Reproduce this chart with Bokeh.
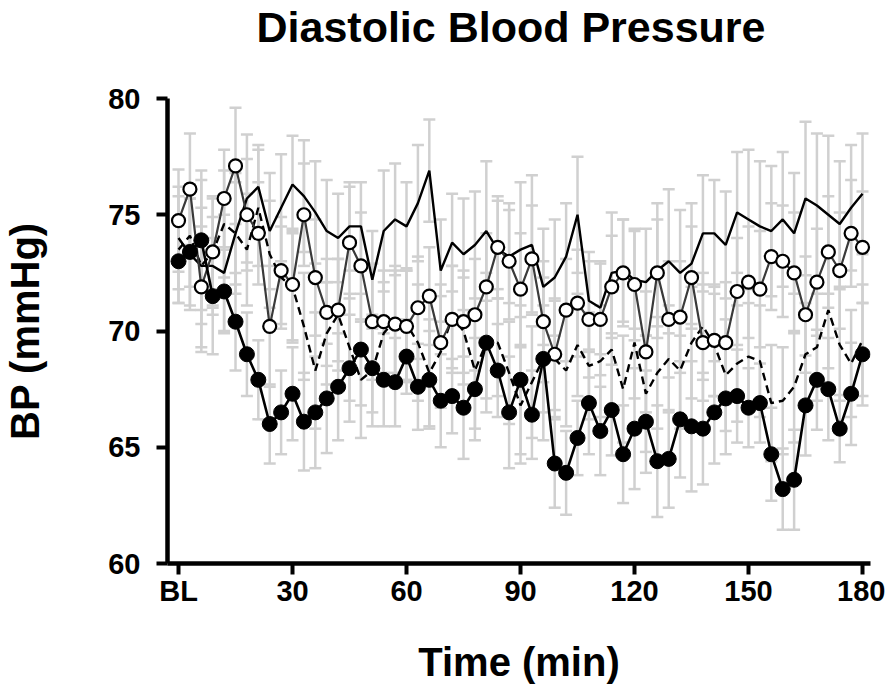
from bokeh.plotting import figure
from bokeh.models import ColumnDataSource, Whisker, TeeHead, FixedTicker, Range1d, Title
from bokeh.embed import file_html
from bokeh.resources import INLINE

time_min = [0, 3, 6, 9, 12, 15, 18, 21, 24, 27, 30, 33, 36, 39, 42, 45, 48, 51, 54, 57, 60,
            63, 66, 69, 72, 75, 78, 81, 84, 87, 90, 93, 96, 99, 102, 105, 108, 111, 114, 117, 120,
            123, 126, 129, 132, 135, 138, 141, 144, 147, 150, 153, 156, 159, 162, 165, 168, 171, 174, 177, 180]

# filled circles, solid line
filled_mean = [73.0, 73.4, 73.9, 71.5, 71.7, 70.4, 69.0, 67.9, 66.0, 66.5, 67.3,
               66.1, 66.5, 67.1, 67.6, 68.4, 69.2, 68.4, 67.9, 67.8, 68.9,
               67.6, 67.9, 67.0, 67.2, 66.7, 67.5, 69.5, 68.3, 66.5, 67.9,
               66.4, 68.8, 64.3, 63.9, 65.4, 66.9, 65.7, 66.6, 64.7, 65.8,
               66.1, 64.4, 64.5, 66.2, 65.9, 65.8, 66.5, 67.1, 67.2, 66.7,
               66.9, 64.7, 63.2, 63.6, 66.8, 67.9, 67.5, 65.8, 67.3, 69.0]
filled_sem = [1.8, 2.3, 3.0, 2.5, 1.8, 2.1, 1.8, 1.7, 1.7, 1.8, 2.0,
              2.1, 2.4, 2.35, 2.3, 2.3, 2.4, 1.9, 2.0, 1.9, 1.6,
              1.85, 2.1, 2.0, 1.6, 2.2, 2.2, 3.0, 2.0, 2.4, 3.2,
              1.9, 3.5, 1.9, 1.8, 1.6, 2.2, 1.9, 1.95, 2.1, 2.6,
              2.2, 2.4, 2.1, 2.5, 2.8, 2.4, 2.2, 2.4, 2.0, 1.7,
              1.7, 2.0, 1.75, 2.15, 2.15, 2.15, 2.2, 1.45, 2.2, 2.2]

# open circles, solid grey line
open_mean = [74.75, 76.1, 71.9, 73.4, 75.7, 77.1, 75.0, 74.2, 70.2, 72.6, 72.0,
             75.0, 72.3, 70.8, 70.9, 73.8, 72.8, 70.4, 70.4, 70.3, 70.2,
             71.0, 71.5, 69.5, 70.5, 70.4, 70.7, 71.9, 73.6, 73.0, 71.8,
             73.1, 70.4, 69.0, 70.9, 71.2, 70.5, 70.5, 71.9, 72.5, 72.0,
             69.1, 72.5, 70.5, 70.6, 72.3, 69.5, 69.6, 69.5, 71.7, 72.1,
             71.8, 73.2, 73.0, 72.5, 70.7, 72.1, 73.4, 72.6, 74.2, 73.6]
open_sem = [2.2, 2.4, 2.6, 2.3, 2.1, 2.5, 2.4, 2.2, 2.6, 2.3, 2.4,
            2.2, 2.5, 2.3, 2.2, 2.4, 2.3, 2.5, 2.2, 2.3, 2.4,
            2.2, 2.1, 2.5, 2.3, 2.2, 2.4, 2.3, 2.2, 2.5, 2.4,
            2.3, 2.6, 2.4, 2.2, 2.3, 2.5, 2.4, 2.2, 2.3, 2.4,
            2.6, 2.3, 2.5, 2.4, 2.2, 2.5, 2.4, 2.6, 2.3, 2.4,
            2.5, 2.3, 2.4, 2.6, 2.5, 2.3, 2.4, 2.5, 2.3, 2.4]

# solid black line, no markers
solid_mean = [74.0, 73.3, 72.8, 72.8, 72.5, 74.2, 75.7, 76.2, 74.3, 75.3, 76.3,
              75.8, 75.1, 74.3, 74.0, 74.5, 74.5, 72.2, 74.3, 74.8, 74.5,
              75.5, 76.9, 72.6, 73.8, 73.3, 73.7, 74.3, 73.5, 73.2, 73.5,
              73.7, 71.9, 72.3, 73.2, 75.0, 71.3, 71.0, 72.5, 72.6, 72.2,
              72.1, 72.6, 73.0, 72.5, 72.9, 74.2, 74.2, 73.7, 75.1, 74.8,
              74.5, 74.3, 74.8, 74.2, 75.7, 75.4, 75.0, 74.6, 75.3, 75.9]
solid_sem = [2.2, 2.4, 3.7, 2.1, 2.5, 2.6, 2.75, 1.8, 2.5, 2.3, 2.1,
             2.4, 2.2, 2.2, 1.9, 1.9, 1.9, 2.1, 2.6, 2.4, 1.9,
             2.5, 2.2, 2.2, 2.1, 2.4, 2.3, 3.0, 2.1, 2.0, 2.9,
             3.0, 2.5, 2.5, 2.3, 2.5, 2.1, 2.0, 2.6, 2.2, 2.1,
             2.3, 2.9, 3.1, 2.7, 2.6, 2.5, 2.3, 2.3, 2.6, 3.0,
             2.8, 2.8, 2.9, 2.6, 3.3, 3.1, 3.4, 2.7, 2.7, 2.6]

# dashed black line, no markers
dashed_mean = [73.5, 74.1, 72.8, 73.4, 74.6, 74.2, 73.5, 75.3, 73.3, 72.3, 71.9,
               70.2, 68.3, 69.9, 70.7, 69.3, 67.9, 68.3, 69.9, 70.5, 70.3,
               69.5, 68.2, 69.1, 70.6, 70.0, 68.3, 69.5, 69.5, 68.2, 66.8,
               67.8, 68.8, 68.8, 68.3, 69.4, 68.5, 68.7, 69.2, 67.5, 69.5,
               67.3, 68.2, 68.8, 68.3, 69.5, 70.2, 69.4, 68.1, 68.6, 68.9,
               68.7, 66.9, 67.0, 67.6, 69.0, 69.3, 70.9, 69.4, 68.6, 69.6]
dashed_sem = [2.3, 2.2, 2.5, 2.4, 2.3, 2.2, 2.4, 2.5, 2.3, 2.2, 2.4,
              2.3, 2.5, 2.2, 2.4, 2.3, 2.5, 2.4, 2.2, 2.3, 2.4,
              2.5, 2.3, 2.4, 2.2, 2.3, 2.5, 2.4, 2.3, 2.2, 2.5,
              2.4, 2.3, 2.5, 2.4, 2.2, 2.3, 2.4, 2.5, 2.3, 2.4,
              2.5, 2.4, 2.3, 2.5, 2.4, 2.3, 2.2, 2.4, 2.5, 2.3,
              2.4, 2.5, 2.3, 2.4, 2.2, 2.3, 2.5, 2.4, 2.3, 2.4]

x_ticks = [0, 30, 60, 90, 120, 150, 180]
x_tick_labels = ["BL", "30", "60", "90", "120", "150", "180"]
y_ticks = [60, 65, 70, 75, 80]
chart_title = "Diastolic Blood Pressure"

FONT = "Liberation Sans"
ERR_COLOR = "#d0d0d0"

p = figure(width=885, height=690, output_backend="svg", toolbar_location=None,
           x_range=Range1d(-2.9, 182.1), y_range=Range1d(60, 80),
           min_border_left=164, min_border_right=15, min_border_top=98, min_border_bottom=127)
p.title.visible = False

# spacer between title and plot frame (nearest the frame)
p.add_layout(Title(text=" ", text_font_size="41px", standoff=0), "above")
# actual title (outer)
p.add_layout(Title(text=chart_title, text_font=FONT, text_font_size="43px",
                   text_font_style="bold", align="left", offset=89, standoff=0,
                   text_color="black"), "above")

p.grid.visible = False
p.outline_line_color = None

def add_errors(mean, sem):
    src = ColumnDataSource(dict(t=time_min,
                                up=[m + s for m, s in zip(mean, sem)],
                                lo=[m - s for m, s in zip(mean, sem)]))
    w = Whisker(base="t", upper="up", lower="lo", source=src,
                line_color=ERR_COLOR, line_width=2.5,
                upper_head=TeeHead(size=12, line_color=ERR_COLOR, line_width=2.5),
                lower_head=TeeHead(size=12, line_color=ERR_COLOR, line_width=2.5))
    w.level = "underlay"
    p.add_layout(w)

for m, s in [(solid_mean, solid_sem), (open_mean, open_sem),
             (dashed_mean, dashed_sem), (filled_mean, filled_sem)]:
    add_errors(m, s)

p.line(time_min, solid_mean, line_color="black", line_width=2.4)
p.line(time_min, dashed_mean, line_color="black", line_width=2.4, line_dash="8 5")
p.line(time_min, open_mean, line_color="#3a3a3a", line_width=2.2)
p.scatter(time_min, open_mean, marker="circle", size=13, fill_color="white",
          line_color="black", line_width=2.2)
p.line(time_min, filled_mean, line_color="black", line_width=2.6)
p.scatter(time_min, filled_mean, marker="circle", size=15, fill_color="black",
          line_color="black", line_width=1)

for ax in (p.xaxis[0], p.yaxis[0]):
    ax.axis_line_width = 4.5
    ax.axis_line_color = "black"
    ax.major_tick_line_width = 4
    ax.major_tick_out = 11
    ax.major_tick_in = 0
    ax.minor_tick_line_color = None
    ax.major_label_text_font = FONT
    ax.major_label_text_font_style = "bold"
    ax.major_label_text_font_size = "29px"
    ax.major_label_text_color = "black"
    ax.axis_label_text_font = FONT
    ax.axis_label_text_font_style = "bold"
    ax.axis_label_text_font_size = "40px"
    ax.axis_label_text_color = "black"

p.xaxis[0].ticker = FixedTicker(ticks=x_ticks)
p.xaxis[0].major_label_overrides = {t: l for t, l in zip(x_ticks, x_tick_labels)}
p.xaxis[0].axis_label = "Time (min)"
p.xaxis[0].major_label_standoff = 0
p.xaxis[0].axis_label_standoff = 30

p.yaxis[0].ticker = FixedTicker(ticks=y_ticks)
p.yaxis[0].axis_label = "BP (mmHg)"
p.yaxis[0].major_label_standoff = 16
p.yaxis[0].axis_label_standoff = 58

open("out.html", "w").write(file_html(p, INLINE))
